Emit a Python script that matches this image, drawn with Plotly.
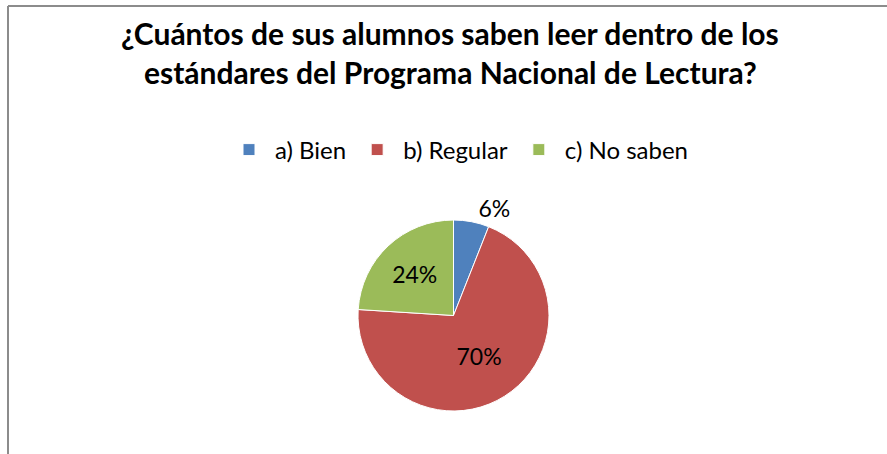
import plotly.graph_objects as go

categories = ["a) Bien", "b) Regular", "c) No saben"]
values = [6, 70, 24]
colors = ["#4F81BD", "#C0504D", "#9BBB59"]
title_lines = ["¿Cuántos de sus alumnos saben leer dentro de los",
               "estándares del Programa Nacional de Lectura?"]

W, H = 887, 454
FONT = "Lato"

fig = go.Figure(go.Pie(
    labels=categories,
    values=values,
    sort=False,
    direction="clockwise",
    rotation=0,
    marker=dict(colors=colors, line=dict(color="white", width=1)),
    textinfo="percent",
    texttemplate="%{percent:.0%}",
    textposition=["outside", "inside", "inside"],
    insidetextorientation="horizontal",
    textfont=dict(family=FONT, size=23, color="black"),
    outsidetextfont=dict(family=FONT, size=23, color="black"),
    insidetextfont=dict(family=FONT, size=23, color="black"),
    domain=dict(x=[357 / W, 550 / W], y=[1 - 411 / H, 1 - 220 / H]),
    showlegend=True,
    hoverinfo="label+percent",
))

annotations = []
for i, line in enumerate(title_lines):
    annotations.append(dict(
        text=f"<b>{line}</b>", x=450 / W, y=1 - (33 + 39 * i) / H,
        xref="paper", yref="paper", xanchor="center", yanchor="middle",
        showarrow=False, font=dict(family=FONT, size=30, color="black"),
    ))

fig.update_layout(
    width=W, height=H,
    margin=dict(l=0, r=0, t=0, b=0),
    paper_bgcolor="white",
    plot_bgcolor="white",
    annotations=annotations,
    legend=dict(
        orientation="h", x=458 / W, y=1 - 150 / H, xanchor="center", yanchor="middle",
        font=dict(family=FONT, size=24, color="black"),
        itemwidth=42, traceorder="normal",
    ),
    shapes=[
        dict(type="line", xref="paper", yref="paper", x0=8 / W, x1=1, y0=1 - 6 / H, y1=1 - 6 / H,
             line=dict(color="#8C8C8C", width=2)),
        dict(type="line", xref="paper", yref="paper", x0=8 / W, x1=8 / W, y0=0, y1=1 - 6 / H,
             line=dict(color="#8C8C8C", width=2)),
    ],
)

fig.write_html("out.html", config={"displayModeBar": False},
               post_script="document.body.style.margin='0';")
